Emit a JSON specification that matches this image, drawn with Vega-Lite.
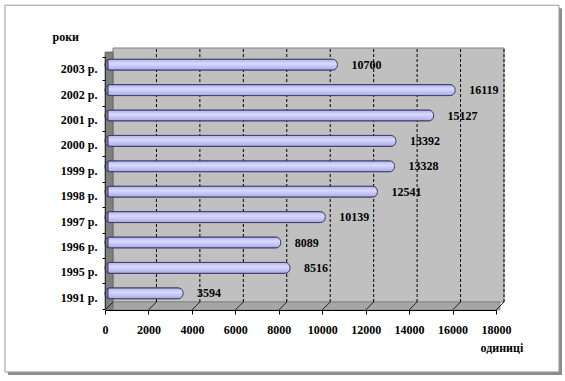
{
  "$schema": "https://vega.github.io/schema/vega-lite/v6.json",
  "width": 391,
  "height": 254,
  "autosize": {"type": "none"},
  "padding": {"left": 105, "top": 56, "right": 69, "bottom": 71},
  "background": "white",
  "config": {
    "view": {"stroke": null},
    "font": "Liberation Serif"
  },
  "resolve": {"scale": {"y": "independent"}, "axis": {"x": "independent", "y": "independent"}},
  "layer": [
    {
      "data": {"values": [{"v": 0}, {"v": 2000}, {"v": 4000}, {"v": 6000}, {"v": 8000}, {"v": 10000}, {"v": 12000}, {"v": 14000}, {"v": 16000}, {"v": 18000}]},
      "layer": [
        {
          "transform": [{"filter": "datum.v === 0"}],
          "mark": {"type": "rect", "fill": "#8c8c8c", "xOffset": 3, "x2Offset": 3, "yOffset": 3, "y2Offset": 3},
          "encoding": {
            "x": {"datum": -4604, "type": "quantitative", "scale": {"domain": [0, 18000], "nice": false}, "axis": null},
            "x2": {"datum": 20900},
            "y": {"datum": 12.0, "type": "quantitative", "scale": {"domain": [0, 10], "nice": false}, "axis": null},
            "y2": {"datum": -2.44}
          }
        },
        {
          "transform": [{"filter": "datum.v === 0"}],
          "mark": {"type": "rect", "fill": "white", "stroke": "#9a9a9a", "strokeWidth": 1},
          "encoding": {
            "x": {"datum": -4604, "type": "quantitative", "scale": {"domain": [0, 18000], "nice": false}, "axis": null},
            "x2": {"datum": 20900},
            "y": {"datum": 12.0, "type": "quantitative", "scale": {"domain": [0, 10], "nice": false}, "axis": null},
            "y2": {"datum": -2.44}
          }
        },
        {
          "transform": [{"filter": "datum.v === 0"}],
          "mark": {"type": "rect", "fill": "#c0c0c0", "stroke": "#808080", "strokeWidth": 1, "xOffset": 8, "x2Offset": 8, "yOffset": -8, "y2Offset": -8},
          "encoding": {
            "x": {"datum": 0, "type": "quantitative", "scale": {"domain": [0, 18000], "nice": false}, "axis": null},
            "x2": {"datum": 18000},
            "y": {"datum": 0, "type": "quantitative", "scale": {"domain": [0, 10], "nice": false}, "axis": null},
            "y2": {"datum": 10}
          }
        },
        {
          "transform": [{"filter": "datum.v === 0"}],
          "mark": {"type": "rect", "fill": "#a6a6a6", "stroke": "#808080", "strokeWidth": 0.8, "xOffset": 4, "x2Offset": 4, "y2Offset": -8},
          "encoding": {
            "x": {"datum": 0, "type": "quantitative", "scale": {"domain": [0, 18000], "nice": false}, "axis": null},
            "x2": {"datum": 18000},
            "y": {"datum": 0, "type": "quantitative", "scale": {"domain": [0, 10], "nice": false}, "axis": null},
            "y2": {"datum": 0}
          }
        },
        {
          "transform": [{"filter": "datum.v === 0"}],
          "mark": {"type": "rect", "fill": "#808080", "stroke": "#606060", "strokeWidth": 0.8, "x2Offset": 8, "y2Offset": -4},
          "encoding": {
            "x": {"datum": 0, "type": "quantitative", "scale": {"domain": [0, 18000], "nice": false}, "axis": null},
            "x2": {"datum": 0},
            "y": {"datum": 0, "type": "quantitative", "scale": {"domain": [0, 10], "nice": false}, "axis": null},
            "y2": {"datum": 10}
          }
        },
        {
          "transform": [{"filter": "datum.v > 0"}],
          "mark": {"type": "rule", "color": "#000000", "strokeWidth": 1, "strokeDash": [3, 2], "xOffset": 8, "yOffset": -8, "y2Offset": -8},
          "encoding": {
            "x": {"field": "v", "type": "quantitative", "scale": {"domain": [0, 18000], "nice": false}, "axis": null},
            "y": {"datum": 0, "type": "quantitative", "scale": {"domain": [0, 10], "nice": false}, "axis": null},
            "y2": {"datum": 10}
          }
        },
        {
          "mark": {"type": "rule", "color": "#202020", "strokeWidth": 1, "x2Offset": 8, "y2Offset": -8},
          "encoding": {
            "x": {"field": "v", "type": "quantitative", "scale": {"domain": [0, 18000], "nice": false}, "axis": null},
            "x2": {"field": "v"},
            "y": {"datum": 0, "type": "quantitative", "scale": {"domain": [0, 10], "nice": false}, "axis": null},
            "y2": {"datum": 0}
          }
        }
      ]
    },
    {
      "data": {
        "values": [
          {"year": "2003 р.", "value": 10700},
          {"year": "2002 р.", "value": 16119},
          {"year": "2001 р.", "value": 15127},
          {"year": "2000 р.", "value": 13392},
          {"year": "1999 р.", "value": 13328},
          {"year": "1998 р.", "value": 12541},
          {"year": "1997 р.", "value": 10139},
          {"year": "1996 р.", "value": 8089},
          {"year": "1995 р.", "value": 8516},
          {"year": "1991 р.", "value": 3594}
        ]
      },
      "encoding": {
        "y": {
          "field": "year",
          "type": "nominal",
          "sort": null,
          "axis": {
            "zindex": 1,
            "tickBand": "extent",
            "tickSize": 3,
            "tickColor": "#000000",
            "domainColor": "#303030",
            "labelFont": "Liberation Serif",
            "labelFontWeight": "bold",
            "labelFontSize": 12,
            "labelColor": "#000000",
            "labelPadding": 5,
            "title": "роки",
            "titleAngle": 0,
            "titleAlign": "left",
            "titleBaseline": "alphabetic",
            "titleX": -53,
            "titleY": -16,
            "titleFont": "Liberation Serif",
            "titleFontWeight": "bold",
            "titleFontSize": 12,
            "titleColor": "#000000"
          }
        },
        "x": {
          "field": "value",
          "type": "quantitative",
          "scale": {"domain": [0, 18000], "nice": false},
          "axis": {
            "zindex": 1,
            "values": [0, 2000, 4000, 6000, 8000, 10000, 12000, 14000, 16000, 18000],
            "format": "d",
            "grid": false,
            "tickSize": 4,
            "tickColor": "#000000",
            "domainColor": "#000000",
            "labelFont": "Liberation Serif",
            "labelFontWeight": "bold",
            "labelFontSize": 12,
            "labelColor": "#000000",
            "labelPadding": 10,
            "labelFlush": false,
            "title": "одиниці",
            "titleX": 375,
            "titleY": 41,
            "titleAlign": "left",
            "titleBaseline": "alphabetic",
            "titleFont": "Liberation Serif",
            "titleFontWeight": "bold",
            "titleFontSize": 12,
            "titleColor": "#000000"
          }
        }
      },
      "layer": [
        {
          "mark": {
            "type": "bar",
            "size": 11,
            "xOffset": 3,
            "x2Offset": 3,
            "yOffset": -4,
            "cornerRadius": 5,
            "stroke": "#3a3a66",
            "strokeWidth": 1,
            "fill": {
              "x1": 0, "y1": 0, "x2": 0, "y2": 1,
              "gradient": "linear",
              "stops": [
                {"offset": 0, "color": "#b0b0ec"},
                {"offset": 0.4, "color": "#dadaff"},
                {"offset": 1, "color": "#a8a8e6"}
              ]
            }
          }
        },
        {
          "mark": {"type": "text", "align": "left", "baseline": "middle", "dx": 14, "dy": -4, "font": "Liberation Serif", "fontWeight": "bold", "fontSize": 12, "color": "#000000"},
          "encoding": {"text": {"field": "value", "type": "quantitative", "format": "d"}}
        }
      ]
    }
  ]
}
